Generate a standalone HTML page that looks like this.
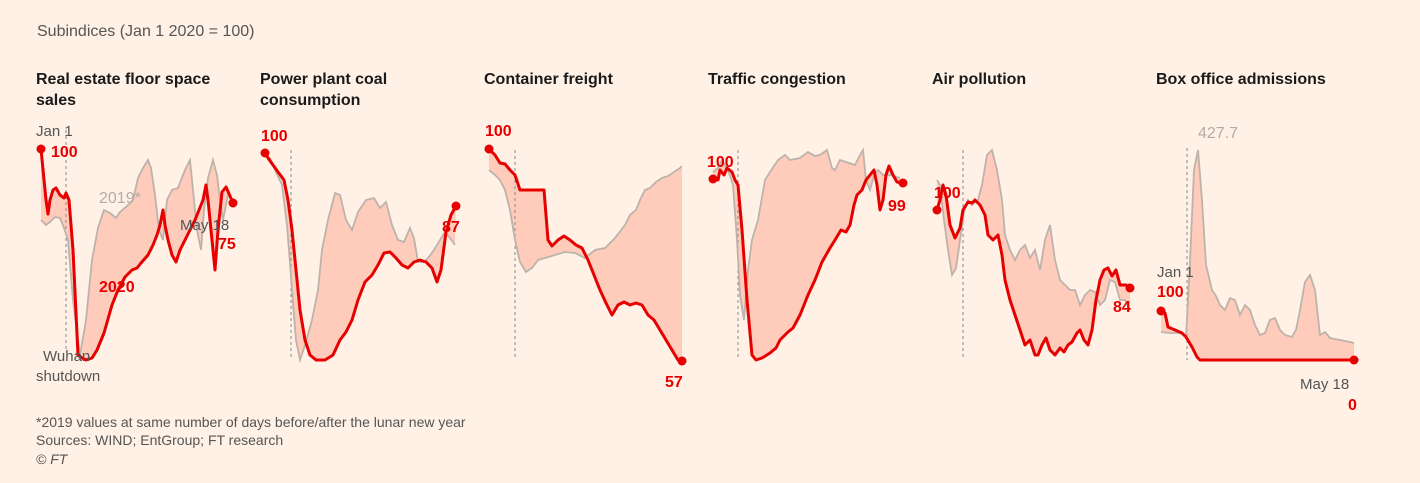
<!DOCTYPE html>
<html><head><meta charset="utf-8"><style>
html,body{margin:0;padding:0;background:#fff1e5;}
svg{display:block;font-family:"Liberation Sans",sans-serif;}
.t{font-size:16px;font-weight:bold;fill:#1a1a1a}
.r{font-size:16px;font-weight:bold;fill:#e60000}
.g{font-size:15px;fill:#555}
</style></head><body>
<svg id="s" width="1420" height="483" viewBox="0 0 1420 483">
<rect width="1420" height="483" fill="#fff1e5"/>
<text x="37" y="36" font-size="16" fill="#555">Subindices (Jan 1 2020 = 100)</text>
<text class="t" x="36" y="84">Real estate floor space</text><text class="t" x="36" y="105">sales</text>
<text class="t" x="260" y="84">Power plant coal</text><text class="t" x="260" y="105">consumption</text>
<text class="t" x="484" y="84">Container freight</text>
<text class="t" x="708" y="84">Traffic congestion</text>
<text class="t" x="932" y="84">Air pollution</text>
<text class="t" x="1156" y="84">Box office admissions</text>
<g id="plots"></g>
<text class="g" x="36" y="136">Jan 1</text><text class="r" x="51" y="157">100</text>
<text x="99" y="203" font-size="16" fill="#b5aca5">2019*</text>
<text class="g" x="180" y="230">May 18</text><text class="r" x="218" y="249">75</text>
<text class="r" x="99" y="292">2020</text>
<text class="g" x="43" y="361">Wuhan</text><text class="g" x="36" y="381">shutdown</text>
<text class="r" x="261" y="141">100</text><text class="r" x="442" y="232">87</text>
<text class="r" x="485" y="136">100</text><text class="r" x="665" y="387">57</text>
<text class="r" x="707" y="167">100</text><text class="r" x="888" y="211">99</text>
<text class="r" x="934" y="198">100</text><text class="r" x="1113" y="312">84</text>
<text x="1198" y="138" font-size="16" fill="#b5aca5">427.7</text>
<text class="g" x="1157" y="277">Jan 1</text><text class="r" x="1157" y="297">100</text>
<text class="g" x="1300" y="389">May 18</text><text class="r" x="1348" y="410">0</text>
<text x="36" y="427" font-size="14" fill="#555">*2019 values at same number of days before/after the lunar new year</text>
<text x="36" y="445" font-size="14" fill="#555">Sources: WIND; EntGroup; FT research</text>
<text x="36" y="464" font-size="14" fill="#555" font-style="italic">© FT</text>
</svg>
<script>
var P=[
{d:[66,130,350],r:[[41,149],[46,200],[48,214],[50,200],[53,190],[56,188],[60,195],[64,198],[66,193],[69,200],[73,250],[78,355],[82,358],[86,360],[92,358],[97,350],[104,333],[112,305],[118,290],[125,277],[132,270],[137,268],[141,263],[148,255],[153,245],[157,235],[160,225],[163,210],[165,225],[168,240],[172,255],[176,262],[180,250],[185,240],[190,230],[195,220],[199,210],[203,200],[206,185],[208,200],[211,230],[215,270],[218,230],[222,192],[226,187],[230,196],[233,203]],
g:[[41,220],[46,225],[50,222],[55,217],[60,218],[64,228],[68,240],[73,300],[80,355],[86,320],[92,260],[98,228],[104,210],[110,213],[116,218],[120,212],[126,207],[133,200],[138,178],[143,168],[148,160],[151,168],[155,195],[159,230],[163,240],[167,200],[172,190],[178,188],[185,170],[190,160],[193,190],[197,230],[201,250],[204,210],[208,178],[213,160],[217,175],[220,200],[223,220],[228,195]]},
{d:[291,150,360],r:[[265,153],[268,158],[273,165],[278,172],[284,180],[288,200],[292,230],[296,270],[300,310],[305,340],[310,355],[316,360],[325,360],[333,355],[340,340],[346,332],[352,320],[358,300],[365,282],[372,275],[378,265],[384,253],[390,252],[396,258],[402,265],[408,268],[414,262],[420,260],[426,262],[432,268],[437,282],[441,270],[446,232],[451,215],[456,206]],
g:[[265,155],[270,158],[276,172],[282,185],[287,225],[292,290],[296,340],[300,360],[305,345],[312,320],[318,290],[322,250],[328,220],[335,193],[340,195],[346,220],[352,230],[358,212],[366,200],[374,198],[380,208],[386,202],[392,225],[398,240],[404,242],[410,228],[414,238],[418,262],[424,262],[428,258],[434,250],[440,240],[445,232],[450,238],[455,245]]},
{d:[515,150,360],r:[[489,149],[495,155],[500,163],[505,164],[510,170],[515,175],[520,190],[544,190],[548,240],[552,246],[558,240],[564,236],[570,240],[576,245],[582,248],[588,260],[594,275],[600,290],[606,303],[612,315],[618,305],[624,302],[630,305],[636,303],[642,305],[648,315],[654,320],[660,330],[666,340],[672,350],[678,360],[682,361]],
g:[[489,170],[495,175],[500,180],[505,190],[510,210],[515,240],[520,262],[526,272],[532,268],[538,260],[545,258],[555,255],[565,252],[575,253],[585,258],[595,250],[605,248],[615,238],[625,225],[630,215],[636,210],[640,200],[645,190],[650,188],[656,182],[662,178],[668,176],[674,172],[680,168],[682,166]]},
{d:[738,150,360],r:[[713,179],[718,180],[720,170],[724,175],[727,168],[732,172],[735,180],[738,185],[742,230],[747,300],[752,355],[756,360],[762,358],[770,353],[776,348],[780,340],[788,332],[793,328],[800,315],[808,295],[815,280],[822,262],[830,248],[835,240],[841,230],[846,232],[850,225],[854,205],[857,195],[862,190],[866,180],[870,175],[874,170],[877,185],[880,210],[883,200],[886,175],[889,166],[893,175],[897,182],[903,183]],
g:[[713,172],[718,168],[722,160],[728,170],[733,185],[737,240],[740,295],[744,320],[748,270],[752,240],[758,220],[765,180],[770,172],[778,160],[785,155],[790,160],[800,158],[808,152],[815,156],[820,155],[827,150],[832,168],[835,170],[840,160],[846,162],[855,165],[860,155],[863,150],[866,180],[870,190],[874,175],[878,170],[883,175],[890,175],[900,178]]},
{d:[963,150,360],r:[[937,210],[940,200],[943,185],[946,195],[950,225],[955,238],[960,228],[963,210],[968,202],[972,203],[975,200],[980,205],[985,215],[988,235],[993,240],[998,235],[1002,255],[1005,280],[1010,300],[1015,315],[1020,330],[1025,345],[1030,340],[1035,355],[1038,355],[1042,345],[1046,338],[1050,350],[1055,355],[1060,348],[1064,352],[1068,345],[1072,342],[1077,333],[1080,330],[1084,340],[1088,345],[1092,330],[1096,300],[1100,280],[1104,270],[1108,268],[1112,276],[1116,270],[1120,285],[1126,285],[1130,288]],
g:[[937,180],[940,185],[944,220],[948,250],[952,275],[956,268],[960,240],[964,212],[968,200],[972,205],[978,200],[982,185],[987,155],[992,150],[997,170],[1002,200],[1005,235],[1010,250],[1015,260],[1020,250],[1025,245],[1030,258],[1035,250],[1040,270],[1045,240],[1050,225],[1055,260],[1060,280],[1065,285],[1070,290],[1075,290],[1080,305],[1085,295],[1090,290],[1095,292],[1100,305],[1105,300],[1110,280],[1115,282],[1120,300],[1125,300],[1130,310]]},
{d:[1187,148,360],r:[[1161,311],[1165,313],[1168,327],[1175,330],[1182,333],[1186,337],[1192,347],[1197,357],[1200,360],[1354,360]],
g:[[1161,332],[1170,333],[1180,333],[1186,337],[1190,262],[1194,170],[1198,150],[1202,200],[1206,265],[1212,290],[1216,296],[1220,305],[1225,310],[1230,298],[1235,300],[1240,315],[1245,305],[1250,310],[1255,325],[1260,335],[1265,333],[1270,320],[1275,318],[1280,330],[1285,335],[1292,337],[1296,330],[1300,310],[1305,282],[1310,275],[1315,290],[1320,335],[1325,332],[1330,338],[1340,340],[1350,342],[1354,343]]}
];
var h='';
function s(a){return a.map(function(p){return p.join(',')}).join(' ');}
P.forEach(function(p){
 h+='<polygon points="'+s(p.g)+' '+s(p.r.slice().reverse())+'" fill="#ffc4b4" opacity="0.85"/>';
 h+='<line x1="'+p.d[0]+'" y1="'+p.d[1]+'" x2="'+p.d[0]+'" y2="'+p.d[2]+'" stroke="#888" stroke-dasharray="3,3" stroke-width="1"/>';
 h+='<polyline points="'+s(p.g)+'" fill="none" stroke="#bdb3ab" stroke-width="1.8"/>';
 h+='<polyline points="'+s(p.r)+'" fill="none" stroke="#e60000" stroke-width="3" stroke-linejoin="round"/>';
 var a=p.r[0],b=p.r[p.r.length-1];
 h+='<circle cx="'+a[0]+'" cy="'+a[1]+'" r="4.5" fill="#e60000"/><circle cx="'+b[0]+'" cy="'+b[1]+'" r="4.5" fill="#e60000"/>';
});
document.getElementById('plots').innerHTML=h;
</script>
</body></html>
